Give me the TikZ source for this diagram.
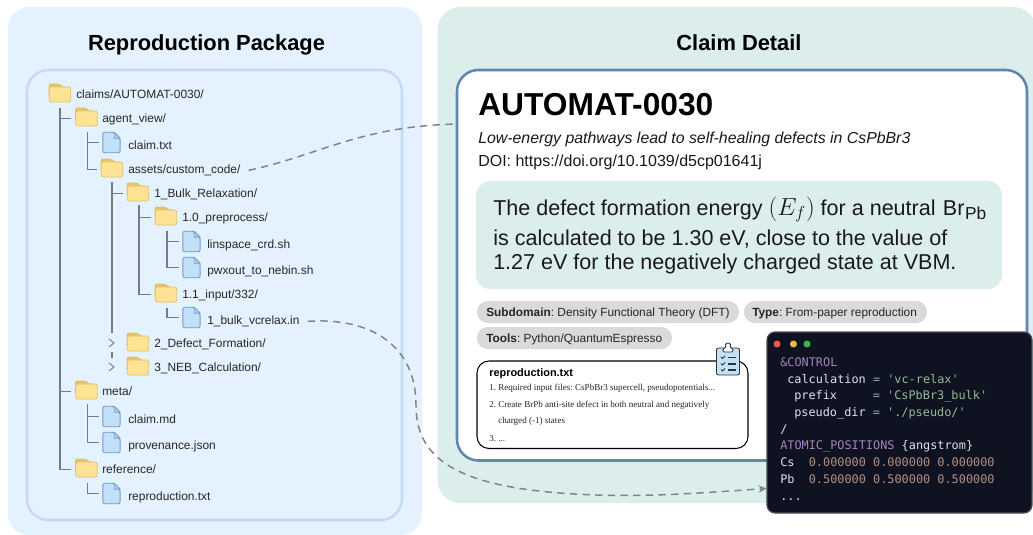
\documentclass[tikz,border=0pt]{standalone}
\usepackage{fix-cm}
\usepackage{fontspec}
\setmainfont{Liberation Sans}
\setmonofont{DejaVu Sans Mono}
\newfontfamily\paperfont{Liberation Serif}
\usetikzlibrary{arrows.meta}
\frenchspacing

\definecolor{leftpanel}{HTML}{E3F2FE}
\definecolor{leftline}{HTML}{C3DCF2}
\definecolor{rightpanel}{HTML}{DBEEEC}
\definecolor{cardline}{HTML}{5F87AD}
\definecolor{chipfill}{HTML}{DADADA}
\definecolor{treegray}{HTML}{767B80}
\definecolor{dashgray}{HTML}{7F8487}
\definecolor{folderfill}{HTML}{FFE394}
\definecolor{foldertab}{HTML}{E6C365}
\definecolor{folderline}{HTML}{DEC274}
\definecolor{filefill}{HTML}{C2E0F8}
\definecolor{fileline}{HTML}{6E9FCC}
\definecolor{codebg}{HTML}{0F1220}
\definecolor{codeline}{HTML}{4A4D58}
\definecolor{codetext}{HTML}{DDE3EA}
\definecolor{codekey}{HTML}{A184BC}
\definecolor{codestr}{HTML}{93BC94}
\definecolor{codenum}{HTML}{B08F84}
\definecolor{codeeq}{HTML}{8FA6C2}

\tikzset{
  treeline/.style={draw=treegray,line width=0.85pt},
  dashlink/.style={draw=dashgray,line width=1.1pt,dash pattern={on 5.5pt off 4pt}},
  folderbody/.style={draw=folderline,fill=folderfill,line width=0.6pt,rounded corners=1.5pt,minimum width=16pt,minimum height=11.25pt,inner sep=0pt},
  filebox/.style={minimum width=12.5pt,minimum height=15pt,inner sep=0pt},
  filename/.style={anchor=base west,inner sep=0pt,font=\fontsize{8.95pt}{11pt}\selectfont,text=black!85},
  panelhead/.style={anchor=base,inner sep=0pt,font=\fontsize{16.4pt}{18pt}\selectfont\bfseries},
  chip/.style={fill=chipfill,rounded corners=8pt},
  chiptext/.style={anchor=base west,inner sep=0pt,font=\fontsize{8.9pt}{11pt}\selectfont,text=black!85},
  claimtext/.style={anchor=base west,inner sep=0pt,font=\fontsize{16.15pt}{18pt}\selectfont,text=black!90},
  papertext/.style={anchor=base west,inner sep=0pt,font=\paperfont\fontsize{6.8pt}{8pt}\selectfont,text=black!85},
  codetxt/.style={anchor=base west,inner sep=0pt,font=\ttfamily\fontsize{8.9pt}{11pt}\selectfont,text=codetext},
}

% folder row: name, icon x, y, label x, label
\newcommand{\folderrow}[5]{%
  \draw [draw=folderline,fill=foldertab,line width=0.6pt,rounded corners=0.8pt] (#2-11,#3+2) -- (#2-11,#3-10) -- (#2-1,#3-10) -- (#2+3,#3-7) -- (#2+6,#3-7) -- (#2+6,#3+2) ;
  \node (#1) [folderbody] at (#2,#3+0.5) {};
  \draw (#4,#3+4.5) node (#1txt) [filename] {#5};
}
% file row: name, icon x, y, label x, label
\newcommand{\filerow}[5]{%
  \node (#1) [filebox] at (#2,#3-2.5) {};
  \draw [draw=fileline,fill=filefill,line width=0.7pt,rounded corners=1.5pt] (#1.south west) -- (#1.north west) -- ([xshift=-4.5pt]#1.north east) -- ([yshift=4.5pt]#1.north east) -- (#1.south east) -- cycle ;
  \draw [draw=fileline,fill=fileline!55,line width=0.5pt] ([xshift=-4.5pt]#1.north east) -- ([xshift=-4.5pt,yshift=4.5pt]#1.north east) -- ([yshift=4.5pt]#1.north east) -- cycle ;
  \draw (#4,#3+4.5) node (#1txt) [filename] {#5};
}

\begin{document}
\begin{tikzpicture}[x=0.75pt,y=0.75pt,yscale=-1]
\useasboundingbox (0,0) rectangle (1033,535);

%Shape: left panel
\fill [leftpanel,rounded corners=16pt] (8,7) rectangle (422,535);
\draw [draw=leftline,line width=1.9pt,rounded corners=16pt] (27,70) rectangle (402,520);
%Shape: right panel
\fill [rightpanel,rounded corners=17pt] (437.5,7) rectangle (1036,503);
\draw [draw=cardline,fill=white,line width=1.9pt,rounded corners=16pt] (457,70) rectangle (1027,460.5);

% Text Node
\draw (206.5,50.5) node (lefthead) [panelhead] {Reproduction Package};
% Text Node
\draw (739,50.5) node (righthead) [panelhead] {Claim Detail};

% tree rows
\folderrow{claims}{60}{94}{76}{claims/AUTOMAT-0030/}
\folderrow{agentview}{86.5}{118}{102}{agent\_view/}
\filerow{claimtxt}{111.5}{145}{128}{claim.txt}
\folderrow{assets}{112}{169}{128}{assets/custom\_code/}
\folderrow{bulk}{138}{193}{154}{1\_Bulk\_Relaxation/}
\folderrow{preproc}{166}{217}{182}{1.0\_preprocess/}
\filerow{linspace}{191.5}{244}{207}{linspace\_crd.sh}
\filerow{pwxout}{191.5}{270}{207}{pwxout\_to\_nebin.sh}
\folderrow{input}{166}{294}{182}{1.1\_input/332/}
\filerow{vcrelax}{191.5}{320}{207}{1\_bulk\_vcrelax.in}
\folderrow{defect}{138}{343}{154}{2\_Defect\_Formation/}
\folderrow{neb}{138}{367}{154}{3\_NEB\_Calculation/}
\folderrow{meta}{86.5}{391}{102}{meta/}
\filerow{claimmd}{111.5}{419}{128}{claim.md}
\filerow{provenance}{111.5}{445}{128}{provenance.json}
\folderrow{reference}{86.5}{469}{102}{reference/}
\filerow{reprotxt}{111.5}{496}{128}{reproduction.txt}

% tree lines
\coordinate (trunkroot) at (60,108);
\coordinate (trunkagent) at (87.5,132);
\coordinate (trunkassets) at (112,182);
\coordinate (trunkassetsend) at (112,333);
\coordinate (stubtop) at (112,352);
\coordinate (stubend) at (112,358);
\coordinate (trunkbulk) at (139,205);
\coordinate (trunkpre) at (167,231);
\coordinate (trunkinput) at (167,308);
\coordinate (trunkmeta) at (87.5,404);
\coordinate (trunkref) at (87.5,483);
\draw [treeline] (trunkroot) |- ([xshift=-3pt]reference.west) ;
\draw [treeline] (trunkroot) |- ([xshift=-3pt]agentview.west) ;
\draw [treeline] (trunkroot) |- ([xshift=-3pt]meta.west) ;
\draw [treeline] (trunkagent) |- ([xshift=-3pt]assets.west) ;
\draw [treeline] (trunkagent) |- ([xshift=-3pt]claimtxt.west) ;
\draw [treeline] (trunkassets) -- (trunkassetsend) ;
\draw [treeline] (stubtop) -- (stubend) ;
\draw [treeline] (trunkassets) |- ([xshift=-3pt]bulk.west) ;
\draw [treeline] (trunkbulk) |- ([xshift=-3pt]input.west) ;
\draw [treeline] (trunkbulk) |- ([xshift=-3pt]preproc.west) ;
\draw [treeline] (trunkpre) |- ([xshift=-3pt]pwxout.west) ;
\draw [treeline] (trunkpre) |- ([xshift=-3pt]linspace.west) ;
\draw [treeline] (trunkinput) |- ([xshift=-3pt]vcrelax.west) ;
\draw [treeline] (trunkmeta) |- ([xshift=-3pt]provenance.west) ;
\draw [treeline] (trunkmeta) |- ([xshift=-3pt]claimmd.west) ;
\draw [treeline] (trunkref) |- ([xshift=-3pt]reprotxt.west) ;
%Chevrons
\draw [treeline,line width=0.7pt] (109,339) -- (114,343) -- (109,347) ;
\draw [treeline,line width=0.7pt] (109,363) -- (114,367) -- (109,371) ;

% Text Node
\draw (478,116) node (claimid) [anchor=base west,inner sep=0pt,font=\fontsize{23.8pt}{28pt}\selectfont\bfseries] {AUTOMAT-0030};
% Text Node
\draw (478,143) node (claimtitle) [anchor=base west,inner sep=0pt,font=\fontsize{11.9pt}{13pt}\selectfont\itshape,text=black!90] {Low-energy pathways lead to self-healing defects in CsPbBr3};
% Text Node
\draw (478,166.5) node (claimdoi) [anchor=base west,inner sep=0pt,font=\fontsize{12pt}{13pt}\selectfont,text=black!90] {DOI: https://doi.org/10.1039/d5cp01641j};

%Shape: claim box
\fill [rightpanel,rounded corners=10.5pt] (476,181) rectangle (1002,289);
% Text Node
\draw (493,215) node (claimA) [claimtext] {The defect formation energy {\fontsize{18.5pt}{20pt}\selectfont$(E_f)$} for a neutral\hspace{1pt} Br\hspace{0.5pt}\raisebox{-0.22em}{\fontsize{13pt}{14pt}\selectfont Pb}};
% Text Node
\draw (493,245) node (claimB) [claimtext] {is calculated to be 1.30 eV, close to the value of};
% Text Node
\draw (493,269) node (claimC) [claimtext] {1.27 eV for the negatively charged state at VBM.};

%Shape: chips
\fill [chip] (477,301) rectangle (739,323);
\fill [chip] (744,301) rectangle (927,323);
\fill [chip] (477,327) rectangle (672,349);
% Text Node
\draw (486,316) node (chipsub) [chiptext] {\textbf{Subdomain}: Density Functional Theory (DFT)};
% Text Node
\draw (752,316) node (chiptype) [chiptext] {\textbf{Type}: From-paper reproduction};
% Text Node
\draw (486,342) node (chiptools) [chiptext] {\textbf{Tools}: Python/QuantumEspresso};

%Shape: reproduction box
\draw [draw=black,fill=white,line width=0.8pt,rounded corners=9pt] (477,361) rectangle (748,448.5);
% Text Node
\draw (489,376) node (repohead) [anchor=base west,inner sep=0pt,font=\fontsize{8.2pt}{10pt}\selectfont\bfseries] {reproduction.txt};
% Text Node
\draw (489,390) node (repoA) [papertext] {1. Required input files: CsPbBr3 supercell, pseudopotentials...};
% Text Node
\draw (489,407) node (repoB) [papertext] {2. Create BrPb anti-site defect in both neutral and negatively};
% Text Node
\draw (498,423) node (repoC) [papertext] {charged (-1) states};
% Text Node
\draw (489,441) node (repoD) [papertext] {3. ...};

%Shape: clipboard
\draw [draw=black!80,fill=filefill,line width=0.7pt,rounded corners=1.5pt] (716.5,348) rectangle (739.5,375);
\draw [draw=black!80,fill=white,line width=0.7pt,rounded corners=1pt] (723,352) -- (723,348.5) -- (725.5,348.5) -- (725.5,346) .. controls (726,342.5) and (730,342.5) .. (730.5,346) -- (730.5,348.5) -- (733,348.5) -- (733,352) -- cycle ;
\draw [black!80,line width=0.6pt] (721,357) -- (722.5,358.5) -- (725,356) (721,363.5) -- (722.5,365) -- (725,362.5) (721,369.5) -- (722.5,371) -- (725,368.5) ;
\draw [black!80,line width=0.8pt] (728,357.5) -- (735.5,357.5) (728,364) -- (735.5,364) (728,370) -- (735.5,370) ;

%Curve lines
\coordinate (cardleft) at (458,124);
\coordinate (codeleft) at (766.5,488.5);
\draw [dashlink] ([xshift=6pt]assetstxt.east) .. controls (320,155) and (360,126) .. (cardleft) ;
\draw [dashlink,-{Stealth[length=6pt,width=5.5pt]}] ([xshift=6pt]vcrelaxtxt.east) .. controls (370,317) and (416,345) .. (416,405) .. controls (416,455) and (450,487) .. (575,494) .. controls (640,498) and (700,493) .. (codeleft) ;

%Shape: code box
\draw [draw=codeline,fill=codebg,line width=0.9pt,rounded corners=6pt] (767,332) rectangle (1032,513);
\fill [fill={rgb, 255:red, 240; green, 85; blue, 85 }] (777,344) circle [radius=3.5];
\fill [fill={rgb, 255:red, 240; green, 185; blue, 60 }] (793.5,344) circle [radius=3.5];
\fill [fill={rgb, 255:red, 60; green, 180; blue, 75 }] (807,344) circle [radius=3.5];
% Text Node
\draw (780,366) node (codeA) [codetxt] {\textcolor{codekey}{\&CONTROL}};
% Text Node
\draw (787,383) node (codeB) [codetxt] {calculation \textcolor{codeeq}{=} \textcolor{codestr}{'vc-relax'}};
% Text Node
\draw (794,399) node (codeC) [codetxt] {prefix~~~~~\textcolor{codeeq}{=} \textcolor{codestr}{'CsPbBr3\_bulk'}};
% Text Node
\draw (794,416) node (codeD) [codetxt] {pseudo\_dir \textcolor{codeeq}{=} \textcolor{codestr}{'./pseudo/'}};
% Text Node
\draw (780,433) node (codeE) [codetxt] {/};
% Text Node
\draw (780,449) node (codeF) [codetxt] {\textcolor{codekey}{ATOMIC\_POSITIONS} \{angstrom\}};
% Text Node
\draw (780,466) node (codeG) [codetxt] {Cs~~\textcolor{codenum}{0.000000 0.000000 0.000000}};
% Text Node
\draw (780,483) node (codeH) [codetxt] {Pb~~\textcolor{codenum}{0.500000 0.500000 0.500000}};
% Text Node
\draw (780,500) node (codeI) [codetxt] {...};

\end{tikzpicture}
\end{document}
